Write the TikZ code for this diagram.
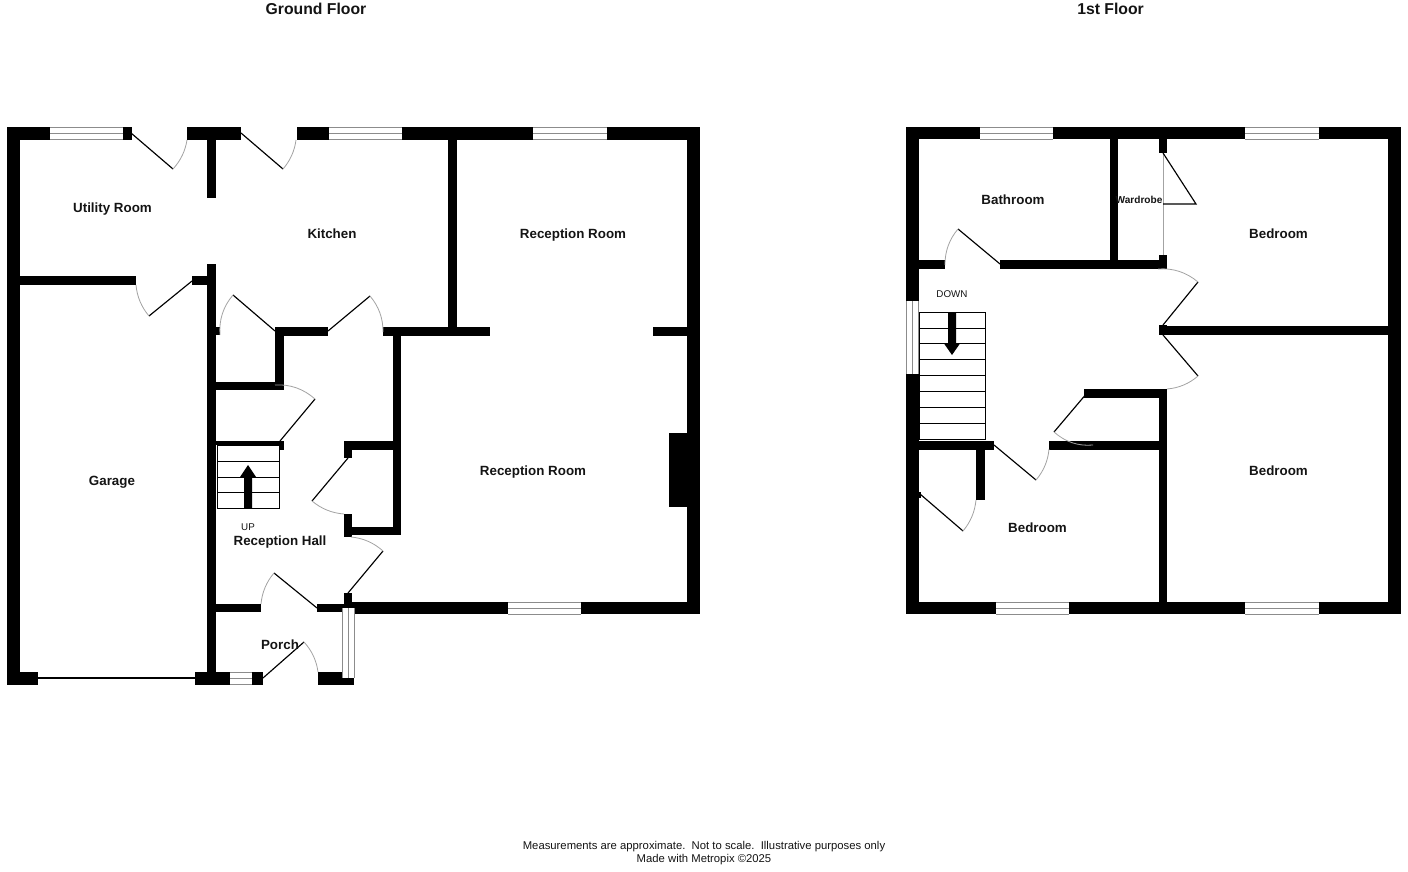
\documentclass[tikz,border=0pt]{standalone}
\usepackage{fontspec}
\setmainfont{Liberation Sans}
\newcommand{\wl}[4]{\fill[black] (#1,#2) rectangle (#3,#4);}
\newcommand{\winh}[3]{% x1 x2 ytop
  \fill[white] (#1,#3) rectangle (#2,#3+12.5);
  \draw[wingray] (#1,#3) -- (#2,#3) (#1,#3+6.25) -- (#2,#3+6.25) (#1,#3+12.5) -- (#2,#3+12.5);}
\newcommand{\winv}[3]{% y1 y2 xleft
  \fill[white] (#3,#1) rectangle (#3+12.5,#2);
  \draw[wingray] (#3,#1) -- (#3,#2) (#3+6.25,#1) -- (#3+6.25,#2) (#3+12.5,#1) -- (#3+12.5,#2);}
\newcommand{\door}[6]{% hinge, leaf end, arc end
  \pgfmathsetmacro{\ua}{#3-#1}\pgfmathsetmacro{\ub}{#4-#2}%
  \pgfmathsetmacro{\va}{#5-#1}\pgfmathsetmacro{\vb}{#6-#2}%
  \pgfmathsetmacro{\kk}{1/(1+(\ua*\va+\ub*\vb)/(sqrt(\ua*\ua+\ub*\ub)*sqrt(\va*\va+\vb*\vb)))}%
  \pgfmathsetmacro{\cx}{#1+\kk*(\ua+\va)}\pgfmathsetmacro{\cy}{#2+\kk*(\ub+\vb)}%
  \draw[leaf] (#1,#2) -- (#3,#4);
  \draw[swing] (#3,#4) .. controls ({#3+2/3*(\cx-#3)},{#4+2/3*(\cy-#4)}) and ({#5+2/3*(\cx-#5)},{#6+2/3*(\cy-#6)}) .. (#5,#6);}
\tikzset{
  leaf/.style={draw=black,line width=1.15pt},
  swing/.style={draw=black!36,line width=0.8pt},
  wingray/.style={draw=black!45,line width=0.9pt},
  tread/.style={draw=black,line width=1pt},
  room/.style={font=\fontsize{13.35}{15}\selectfont\bfseries,inner sep=0pt,anchor=base,text=black!92},
  small/.style={font=\fontsize{9.8}{11}\selectfont,inner sep=0pt,anchor=base,text=black!92},
  floortitle/.style={font=\fontsize{15.75}{18}\selectfont\bfseries,inner sep=0pt,anchor=base,text=black!92},
  foot/.style={font=\fontsize{11.3}{12}\selectfont,inner sep=0pt,anchor=base,text=black!92},
}
\begin{document}
\begin{tikzpicture}[x=1pt,y=-1pt]
\useasboundingbox (0,0) rectangle (1408,872);
\fill[white] (0,0) rectangle (1408,872);
%% ---------- Ground floor walls
\wl{7}{127}{20}{685}
\wl{7}{127}{50}{140}
\wl{123}{127}{132}{140}
\wl{187}{127}{241}{140}
\wl{297}{127}{329}{140}
\wl{402}{127}{700}{140}
\wl{687}{127}{700}{614}
\wl{207}{140}{216}{198}
\wl{207}{264}{216}{685}
\wl{20}{276}{136}{284.5}
\wl{192}{276}{207}{284.5}
\wl{216}{327}{220}{335}
\wl{275}{327}{284}{390}
\wl{275}{327}{328}{335.5}
\wl{216}{381.5}{284}{390}
\wl{383}{327}{490}{335.5}
\wl{653}{327}{687}{335.5}
\wl{448}{140}{457}{335}
\wl{392.5}{331}{401}{535}
\wl{344}{441}{401}{449.5}
\wl{344}{441}{352}{458}
\wl{344}{514}{352}{537}
\wl{344}{526.5}{401}{535}
\wl{344}{593}{352}{606}
\wl{345}{602}{700}{614}
\wl{669}{433}{687}{507}
\wl{216}{441}{284}{445}
\wl{279}{441}{284}{449.5}
\wl{216}{604}{261}{612}
\wl{317}{604}{345}{612}
\wl{7}{672}{38}{685}
\wl{195}{672}{263}{684.5}
\wl{318}{672}{354}{684.5}
%% windows
\winh{50}{123}{127}
\winh{329}{402}{127}
\winh{533}{607}{127}
\winh{508}{581}{602}
\winh{230}{252}{672}
\winv{608}{678}{342}
\draw[leaf] (38,678) -- (195,678);
%% doors
\door{131}{133}{173}{169}{187}{140}
\door{241}{133}{283}{169}{296}{140}
\door{192}{281}{149}{316}{136}{285}
\door{275}{331}{233}{295}{220}{335}
\door{328}{331}{370}{296}{383}{332}
\door{280}{441}{315}{399}{275}{385}
\door{348}{458}{312}{501}{344}{514}
\door{348}{593}{383}{551}{351}{537}
\door{317}{608}{274}{573}{261}{604}
\door{263}{678}{304}{642}{318}{672}
%% stairs up
\draw[tread] (217,445) rectangle (279,508);
\draw[tread] (217,461) -- (279,461) (217,477) -- (279,477) (217,492.5) -- (279,492.5);
\fill[black] (244,508) -- (244,477) -- (240,477) -- (248,465) -- (256,477) -- (252,477) -- (252,508) -- cycle;
%% ---------- First floor walls
\wl{906}{127}{919}{301}
\wl{906}{374}{919}{614}
\wl{906}{127}{980}{139.5}
\wl{1053}{127}{1245}{139.5}
\wl{1319}{127}{1401}{139.5}
\wl{1388}{127}{1401}{614}
\wl{906}{602}{996}{614}
\wl{1069}{602}{1245}{614}
\wl{1319}{602}{1401}{614}
\wl{919}{260}{945}{269}
\wl{1000}{260}{1167}{269}
\wl{1110}{139}{1118}{265}
\wl{1159}{139}{1167}{153}
\wl{1159}{255}{1167}{269}
\wl{1159}{325}{1167}{335}
\wl{1167}{326}{1388}{335}
\wl{1084}{389}{1167}{397.5}
\wl{1159}{389}{1167}{602}
\wl{1049}{441}{1159}{449.5}
\wl{919}{441}{994}{449.5}
\wl{976}{445}{985}{500}
\wl{919}{492}{921}{498}
%% windows
\winh{980}{1053}{127}
\winh{1245}{1319}{127}
\winh{996}{1069}{602}
\winh{1245}{1319}{602}
\winv{301}{374}{906}
%% wardrobe
\draw[swing] (1163,153) -- (1163,255);
\draw[leaf] (1163,153) -- (1196,204) -- (1163,204);
%% doors
\door{1000}{264}{958}{229}{945}{265}
\door{1163}{325}{1198}{282}{1158}{269}
\door{1163}{335}{1198}{376}{1167}{389}
\door{1087}{393}{1054}{432}{1093}{445}
\door{994}{445}{1036}{480}{1049}{449}
\door{920}{494}{963}{531}{976}{500}
%% stairs down
\draw[tread] (919,312) rectangle (985,439);
\draw[tread] (919,328) -- (985,328) (919,343.5) -- (985,343.5) (919,359.5) -- (985,359.5)
 (919,375) -- (985,375) (919,391) -- (985,391) (919,407) -- (985,407) (919,423) -- (985,423);
\fill[black] (948,312) -- (948,343.5) -- (944,343.5) -- (952,355) -- (960,343.5) -- (956,343.5) -- (956,312) -- cycle;
%% ---------- Labels
\node[floortitle] (t1) at (316,14.5) {Ground Floor};
\node[floortitle] (t2) at (1110.5,14.5) {1st Floor};
\node[room] (util) at (112.5,212.5) {Utility Room};
\node[room] (kit) at (332,238) {Kitchen};
\node[room] (rec1) at (573,238) {Reception Room};
\node[room] (rec2) at (533,475.5) {Reception Room};
\node[room] (hall) at (280,545.5) {Reception Hall};
\node[room] (porch) at (280,649) {Porch};
\node[room] (gar) at (112,485) {Garage};
\node[small] (up) at (248,530.5) {UP};
\node[room] (bath) at (1013,204.5) {Bathroom};
\node[font=\fontsize{10.1}{11}\selectfont\bfseries,inner sep=0pt,anchor=base,text=black!92] (ward) at (1139,203.5) {Wardrobe};
\node[room] (bed1) at (1278.5,238) {Bedroom};
\node[room] (bed2) at (1278.5,475.5) {Bedroom};
\node[room] (bed3) at (1037.5,532.5) {Bedroom};
\node[small] (down) at (952,297.5) {DOWN};
\node[foot] (note1) at (704,849.5) {Measurements are approximate.\ \ Not to scale.\ \ Illustrative purposes only};
\node[foot] (note2) at (704,862) {Made with Metropix ©2025};
\end{tikzpicture}
\end{document}
